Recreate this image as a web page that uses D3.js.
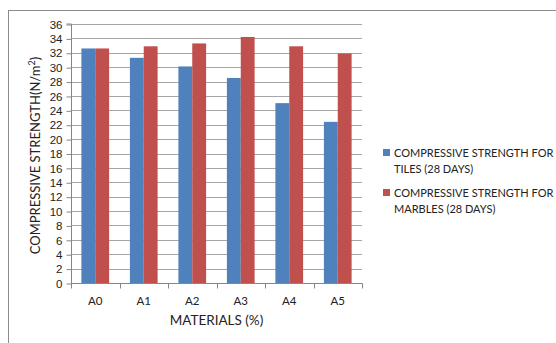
<!DOCTYPE html>
<html>
<head>
<meta charset="utf-8">
<script src="https://cdn.jsdelivr.net/npm/d3@7"></script>
<style>
  html, body { margin: 0; padding: 0; background: #fff; }
  svg { display: block; font-family: Lato, "Open Sans", "Liberation Sans", sans-serif; }
</style>
</head>
<body>
<svg id="chart" width="556" height="343"></svg>
<script>
// Compressive strength (N/m²) at 28 days by material mix
const categories = ["A0", "A1", "A2", "A3", "A4", "A5"];
const tilesStrength = [32.6, 31.3, 30.1, 28.5, 25.0, 22.4];
const marblesStrength = [32.6, 32.9, 33.3, 34.2, 32.9, 31.9];
const seriesNames = ["COMPRESSIVE STRENGTH FOR TILES (28 DAYS)", "COMPRESSIVE STRENGTH FOR MARBLES (28 DAYS)"];
const yTicks = d3.range(0, 37, 2);

const colors = ["#4f81bd", "#c0504d"];
const series = [tilesStrength, marblesStrength];

const svg = d3.select("#chart");
const plot = { left: 71, right: 362, top: 24, bottom: 283 };

// outer chart frame (runs off the right and bottom edges)
svg.append("rect")
  .attr("x", 8.5).attr("y", 10.5)
  .attr("width", 600).attr("height", 400)
  .attr("fill", "none").attr("stroke", "#8c8c8c").attr("stroke-width", 1);

const x = d3.scaleBand().domain(categories).range([plot.left, plot.right]).paddingInner(0).paddingOuter(0);
const y = d3.scaleLinear().domain([0, 36]).range([plot.bottom, plot.top]);

// gridlines
svg.append("g").selectAll("line").data(yTicks.filter(d => d > 0)).join("line")
  .attr("x1", plot.left).attr("x2", plot.right)
  .attr("y1", d => Math.round(y(d)) + 0.5).attr("y2", d => Math.round(y(d)) + 0.5)
  .attr("stroke", "#a6a6a6").attr("stroke-width", 1);

// bars: two per category, gap width 150% of a bar
const barW = x.bandwidth() / 3.5;
const gap = barW * 0.75;
series.forEach((vals, si) => {
  svg.append("g").selectAll("rect").data(vals).join("rect")
    .attr("x", (d, i) => x(categories[i]) + gap + si * barW)
    .attr("y", d => y(d))
    .attr("width", barW)
    .attr("height", d => y(0) - y(d))
    .attr("fill", colors[si]);
});

// y axis
const yAxis = d3.axisLeft(y).tickValues(yTicks).tickSize(5).tickPadding(4).tickFormat(d3.format("d"));
const gy = svg.append("g").attr("transform", `translate(${plot.left + 0.5},0.5)`).call(yAxis);
gy.select(".domain").attr("stroke", "#868686").attr("d", `M-5,${plot.top - 0.5}H0V${plot.bottom}`);
gy.selectAll(".tick line").attr("stroke", "#868686");
gy.selectAll(".tick text").attr("fill", "#222").style("font-size", "11.5px");

// x axis
const gx = svg.append("g").attr("transform", `translate(0,${plot.bottom + 0.5})`);
gx.append("line").attr("x1", plot.left).attr("x2", plot.right + 0.5)
  .attr("stroke", "#868686");
gx.selectAll("line.tk").data(d3.range(categories.length + 1)).join("line")
  .attr("class", "tk")
  .attr("x1", i => Math.round(plot.left + i * x.bandwidth()) + 0.5)
  .attr("x2", i => Math.round(plot.left + i * x.bandwidth()) + 0.5)
  .attr("y1", 0).attr("y2", 5).attr("stroke", "#868686");
gx.selectAll("text").data(categories).join("text")
  .attr("x", d => x(d) + x.bandwidth() / 2)
  .attr("y", 21)
  .attr("text-anchor", "middle")
  .attr("fill", "#222").style("font-size", "11.5px")
  .text(d => d);

// axis titles
svg.append("text")
  .attr("x", (plot.left + plot.right) / 2).attr("y", 325)
  .attr("text-anchor", "middle").attr("fill", "#222").style("font-size", "13.5px")
  .text("MATERIALS (%)");

const yt = svg.append("text")
  .attr("transform", `translate(40,${(plot.top + plot.bottom) / 2 + 2}) rotate(-90)`)
  .attr("text-anchor", "middle").attr("fill", "#222").style("font-size", "13px");
yt.append("tspan").text("COMPRESSIVE STRENGTH(N/m");
yt.append("tspan").attr("dy", -5).style("font-size", "9px").text("2");
yt.append("tspan").attr("dy", 5).text(")");

// legend
const legend = svg.append("g");
const legendY = [149, 189];
seriesNames.forEach((name, i) => {
  const g = legend.append("g").attr("transform", `translate(383,${legendY[i]})`);
  g.append("rect").attr("width", 7).attr("height", 7).attr("fill", colors[i]);
  const cut = name.indexOf(" FOR ") + 4;
  const t = g.append("text").attr("x", 11).attr("y", 7.5)
    .attr("fill", "#222").style("font-size", "11px");
  t.append("tspan").attr("x", 11).text(name.slice(0, cut));
  t.append("tspan").attr("x", 11).attr("dy", 16).text(name.slice(cut + 1));
});
</script>
</body>
</html>
